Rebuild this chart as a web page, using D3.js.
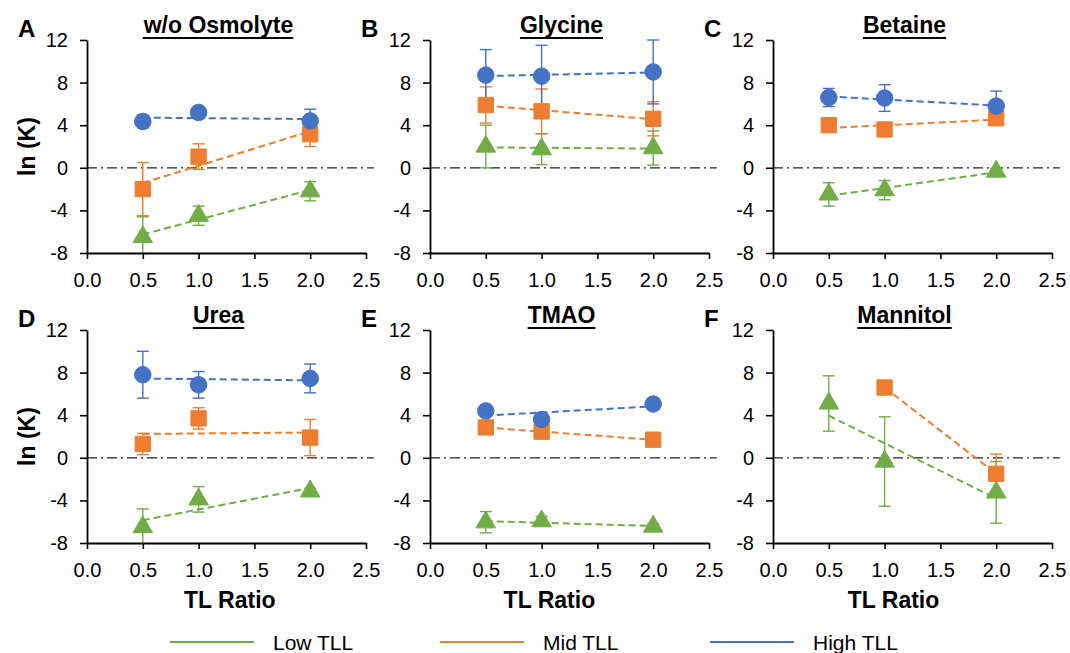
<!DOCTYPE html>
<html>
<head>
<meta charset="utf-8">
<script src="https://cdn.jsdelivr.net/npm/d3@7"></script>
<style>
body { margin: 0; background: #fff; }
text { font-family: Arial, "Liberation Sans", sans-serif; fill: #000; }
</style>
</head>
<body>
<script>
var ratios = [0.5, 1.0, 2.0];
var panelNames = ['w/o Osmolyte', 'Glycine', 'Betaine', 'Urea', 'TMAO', 'Mannitol'];
var panelLetters = ['A', 'B', 'C', 'D', 'E', 'F'];
var xTicks = [0, 0.5, 1, 1.5, 2, 2.5];
var yTicks = [-8, -4, 0, 4, 8, 12];
var seriesNames = ['Low TLL', 'Mid TLL', 'High TLL'];

// ln(K) means, one row per panel (A..F), columns follow ratios
var lowMean  = [[-6.5, -4.5, -2.2], [2.0, 1.75, 1.85], [-2.5, -2.1, -0.35], [-6.5, -3.9, -3.15], [-6.05, -5.95, -6.45], [5.1, -0.35, -3.25]];
var lowErr   = [[1.9, 0.9, 0.9], [2.0, 1.45, 1.6], [1.1, 0.9, 0.3], [1.7, 1.2, 0.3], [1.0, 0.45, 0.25], [2.6, 4.2, 2.9]];
var midMean  = [[-2.0, 1.05, 3.15], [5.9, 5.3, 4.6], [4.0, 3.6, 4.65], [1.3, 3.7, 1.9], [2.85, 2.45, 1.7], [null, 6.6, -1.5]];
var midErr   = [[2.5, 1.2, 1.15], [1.7, 2.1, 1.6], [0.3, 0.3, 0.3], [1.0, 1.0, 1.7], [0.6, 0.4, 0.3], [null, 0.2, 1.85]];
var highMean = [[4.35, 5.2, 4.4], [8.7, 8.6, 9.0], [6.6, 6.55, 5.8], [7.8, 6.85, 7.45], [4.4, 3.6, 5.05], [null, null, null]];
var highErr  = [[0.6, 0.2, 1.1], [2.4, 2.9, 3.0], [0.85, 1.25, 1.4], [2.2, 1.25, 1.35], [0.2, 0.2, 0.2], [null, null, null]];

var colors = ['#70ad47', '#ed7d31', '#4472c4'];
var means = [lowMean, midMean, highMean];
var errs = [lowErr, midErr, highErr];

var colX = [87, 430, 773];
var rowTop = [40, 330];
var plotW = 279, plotH = 213;
var xLabelAt = [1.28, 1.07, 1.08];

var svg = d3.select('body').append('svg')
    .attr('width', 1070)
    .attr('height', 653);

var symbols = [d3.symbolTriangle, d3.symbolSquare, d3.symbolCircle];
var symSizes = [165, 235, 215];

panelNames.forEach(function(name, p) {
    var col = p % 3, row = Math.floor(p / 3);
    var x0 = colX[col], y0 = rowTop[row];
    var g = svg.append('g').attr('transform', 'translate(' + x0 + ',' + y0 + ')');

    var x = d3.scaleLinear().domain([0, 2.5]).range([0, plotW]);
    var y = d3.scaleLinear().domain([-8, 12]).range([plotH, 0]);

    g.append('clipPath').attr('id', 'clip' + p)
        .append('rect')
        .attr('x', -5).attr('y', -15)
        .attr('width', plotW + 20).attr('height', plotH + 15);

    var plot = g.append('g').attr('clip-path', 'url(#clip' + p + ')');

    // zero reference
    plot.append('line')
        .attr('x1', x(0)).attr('x2', x(2.57))
        .attr('y1', y(0)).attr('y2', y(0))
        .attr('stroke', '#222')
        .attr('stroke-width', 1.3)
        .attr('stroke-dasharray', '10,4,2,4');

    var all = [0, 1, 2].map(function(s) {
        return ratios.map(function(r, i) {
            return {x: r, y: means[s][p][i], e: errs[s][p][i]};
        }).filter(function(d) { return d.y != null; });
    });

    // linear trend lines
    all.forEach(function(pts, s) {
        if (pts.length < 2) return;
        var mx = d3.mean(pts, function(d) { return d.x; });
        var my = d3.mean(pts, function(d) { return d.y; });
        var sxy = d3.sum(pts, function(d) { return (d.x - mx) * (d.y - my); });
        var sxx = d3.sum(pts, function(d) { return (d.x - mx) * (d.x - mx); });
        var slope = sxy / sxx;
        var xa = d3.min(pts, function(d) { return d.x; });
        var xb = d3.max(pts, function(d) { return d.x; });
        plot.append('line')
            .attr('x1', x(xa)).attr('x2', x(xb))
            .attr('y1', y(my + slope * (xa - mx)))
            .attr('y2', y(my + slope * (xb - mx)))
            .attr('stroke', colors[s])
            .attr('stroke-width', 2)
            .attr('stroke-dasharray', '7,4');
    });

    // error bars
    all.forEach(function(pts, s) {
        var eb = plot.append('g')
            .attr('stroke', colors[s])
            .attr('stroke-width', 1.4);
        eb.selectAll('line.v')
            .data(pts)
            .enter().append('line')
            .attr('x1', function(d) { return x(d.x); })
            .attr('x2', function(d) { return x(d.x); })
            .attr('y1', function(d) { return y(d.y - d.e); })
            .attr('y2', function(d) { return y(d.y + d.e); });
        eb.selectAll('line.top')
            .data(pts)
            .enter().append('line')
            .attr('x1', function(d) { return x(d.x) - 6; })
            .attr('x2', function(d) { return x(d.x) + 6; })
            .attr('y1', function(d) { return y(d.y + d.e); })
            .attr('y2', function(d) { return y(d.y + d.e); });
        eb.selectAll('line.bot')
            .data(pts)
            .enter().append('line')
            .attr('x1', function(d) { return x(d.x) - 6; })
            .attr('x2', function(d) { return x(d.x) + 6; })
            .attr('y1', function(d) { return y(d.y - d.e); })
            .attr('y2', function(d) { return y(d.y - d.e); });
    });

    // markers
    all.forEach(function(pts, s) {
        plot.selectAll('path.m' + s)
            .data(pts)
            .enter().append('path')
            .attr('class', 'm' + s)
            .attr('d', d3.symbol().type(symbols[s]).size(symSizes[s]))
            .attr('transform', function(d) {
                return 'translate(' + x(d.x) + ',' + y(d.y) + ')';
            })
            .attr('fill', colors[s])
            .attr('stroke', colors[s])
            .attr('stroke-width', 1)
            .attr('stroke-linejoin', 'round');
    });

    // axes
    var yAxis = g.append('g')
        .call(d3.axisLeft(y).tickValues(yTicks).tickFormat(function(d) { return String(d); })
            .tickSize(7).tickSizeOuter(0).tickPadding(12));
    var xAxis = g.append('g')
        .attr('transform', 'translate(0,' + plotH + ')')
        .call(d3.axisBottom(x).tickValues(xTicks).tickFormat(function(d) { return d.toFixed(1); })
            .tickSize(6).tickSizeOuter(0).tickPadding(14));
    [yAxis, xAxis].forEach(function(a) {
        a.select('.domain').attr('stroke', '#000').attr('stroke-width', 1.8);
        a.selectAll('.tick line').attr('stroke', '#000').attr('stroke-width', 1.6);
        a.selectAll('.tick text')
            .attr('font-size', 20)
            .attr('font-family', 'Arial, "Liberation Sans", sans-serif')
            .attr('fill', '#000');
    });

    // title with underline
    var title = g.append('text')
        .attr('x', plotW / 2 - 8)
        .attr('y', -7)
        .attr('text-anchor', 'middle')
        .attr('font-size', 23)
        .attr('font-weight', 'bold')
        .text(name);
    var bb = title.node().getBBox();
    g.append('line')
        .attr('x1', bb.x).attr('x2', bb.x + bb.width)
        .attr('y1', -2).attr('y2', -2)
        .attr('stroke', '#000')
        .attr('stroke-width', 2);

    g.append('text')
        .attr('x', -69)
        .attr('y', -3)
        .attr('font-size', 24)
        .attr('font-weight', 'bold')
        .text(panelLetters[p]);

    if (col == 0) {
        g.append('text')
            .attr('transform', 'translate(-52,' + (plotH / 2) + ') rotate(-90)')
            .attr('text-anchor', 'middle')
            .attr('font-size', 23)
            .attr('font-weight', 'bold')
            .text('ln (K)');
    }
    if (row == 1) {
        g.append('text')
            .attr('x', x(xLabelAt[col]))
            .attr('y', plotH + 65)
            .attr('text-anchor', 'middle')
            .attr('font-size', 23)
            .attr('font-weight', 'bold')
            .text('TL Ratio');
    }
});

// legend
var legend = svg.append('g').selectAll('g')
    .data(seriesNames)
    .enter().append('g')
    .attr('transform', function(d, i) { return 'translate(' + (170 + 270 * i) + ',642)'; });
legend.append('line')
    .attr('x1', 0).attr('x2', 84)
    .attr('stroke', function(d, i) { return colors[i]; })
    .attr('stroke-width', 2);
legend.append('text')
    .attr('x', 103)
    .attr('y', 8)
    .attr('font-size', 21)
    .text(function(d) { return d; });
</script>
</body>
</html>
